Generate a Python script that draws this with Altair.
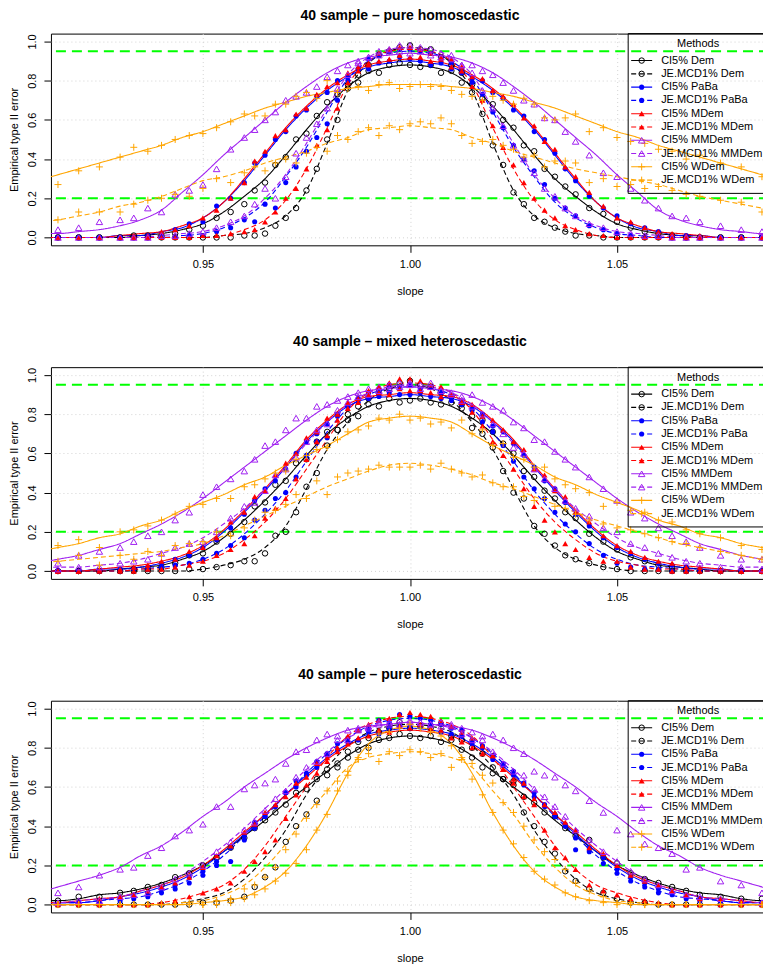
import altair as alt
import pandas as pd

FONT = "Liberation Sans"

# x grid of the simulated points (slope values)
SLOPE = [0.915, 0.92, 0.925, 0.93, 0.9333, 0.9367, 0.94, 0.9433, 0.9467, 0.95,
         0.9533, 0.9567, 0.96, 0.9625, 0.965, 0.9675, 0.97, 0.9725, 0.975, 0.9775,
         0.98, 0.9825, 0.985, 0.9875, 0.99, 0.9925, 0.995, 0.9975, 1.0,
         1.0025, 1.005, 1.0075, 1.01, 1.0125, 1.015, 1.0175, 1.02, 1.0225, 1.025,
         1.0275, 1.03, 1.0325, 1.035, 1.0375, 1.04, 1.0433, 1.0467, 1.05, 1.0533,
         1.0567, 1.06, 1.0633, 1.0667, 1.07, 1.075, 1.08, 1.085]
# x grid of the fitted curves
FIT_SLOPE = [0.91, 0.915, 0.92, 0.925, 0.93, 0.935, 0.94, 0.945, 0.95, 0.955, 0.96,
             0.965, 0.97, 0.975, 0.98, 0.985, 0.99, 0.995, 1.0, 1.005, 1.01, 1.015,
             1.02, 1.025, 1.03, 1.035, 1.04, 1.045, 1.05, 1.055, 1.06, 1.065, 1.07,
             1.075, 1.08, 1.085, 1.09]

METHODS = ["CI5% Dem", "JE.MCD1% Dem", "CI5% PaBa", "JE.MCD1% PaBa", "CI5% MDem",
           "JE.MCD1% MDem", "CI5% MMDem", "JE.MCD1% MMDem", "CI5% WDem", "JE.MCD1% WDem"]
TITLES = ["40 sample \u2013 pure homoscedastic", "40 sample \u2013 mixed heteroscedastic",
          "40 sample \u2013 pure heteroscedastic"]
GREEN_LEVELS = [0.95, 0.2]
X_TICKS = [0.95, 1.0, 1.05]
Y_TICKS = [0.0, 0.2, 0.4, 0.6, 0.8, 1.0]

# ---------------- values in percent: panel 1 (pure homoscedastic) -------------
P1_PTS_DEM_CI = [0,0,0,0,1,1,1,2,4,6,10,13,17,24,28,37,41,50,53,62,69,73,78,79,85,84,88,89,88,87,88,84,85,79,78,71,68,60,56,47,44,35,31,26,22,15,12,8,5,3,2,1,0,0,0,0,0]
P1_FIT_DEM_CI = [0,0,0,0,0,1,2,4,7,13,21,30,42,55,67,77,84,87,88,87,84,77,67,55,42,30,21,13,7,4,2,1,0,0,0,0,0]
P1_PTS_DEM_JE = [0,0,0,0,0,0,0,0,0,0,0,0,1,1,2,6,10,15,24,35,50,60,76,83,88,93,95,97,98,96,96,92,88,84,74,63,47,37,23,17,10,8,5,3,1,1,0,0,0,0,0,0,0,0,0,0,0]
P1_FIT_DEM_JE = [0,0,0,0,0,0,0,0,0,1,2,5,11,24,48,75,89,95,97,95,89,75,48,24,11,5,2,1,0,0,0,0,0,0,0,0,0]
P1_PTS_PABA_CI = [0,0,0,0,0,1,2,4,7,8,16,20,28,38,42,50,54,62,65,72,74,80,82,86,86,89,90,92,91,90,88,89,86,86,81,80,74,71,65,62,54,50,43,35,29,21,15,11,7,5,3,1,1,0,0,0,0]
P1_FIT_PABA_CI = [0,0,0,0,1,1,3,5,10,18,29,42,55,66,75,82,87,89,90,89,87,82,75,66,55,42,29,18,10,5,3,1,1,0,0,0,0]
P1_PTS_PABA_JE = [0,0,0,0,0,0,0,0,1,1,3,5,9,8,17,15,28,36,44,51,58,70,80,86,91,93,95,96,96,95,94,91,89,84,79,73,64,56,47,40,34,27,20,15,11,6,4,2,1,0,0,0,0,0,0,0,0]
P1_FIT_PABA_JE = [0,0,0,0,0,0,0,1,2,5,10,18,31,46,64,81,90,94,95,94,90,81,64,46,31,18,10,5,2,1,0,0,0,0,0,0,0]
P1_PTS_MDEM_CI = [0,0,0,0,1,1,3,4,6,10,14,20,28,39,44,52,55,63,66,73,77,79,84,87,88,90,91,93,92,92,90,91,87,87,82,81,75,72,68,61,57,49,45,36,31,23,16,10,8,5,3,2,1,1,0,0,0]
P1_FIT_MDEM_CI = [0,0,0,0,1,2,3,6,10,18,30,43,56,67,76,83,88,90,91,90,88,83,76,67,56,43,30,18,10,6,3,2,1,0,0,0,0]
P1_PTS_MDEM_JE = [0,0,0,0,0,0,0,0,0,1,1,2,3,4,8,13,20,25,35,47,55,66,79,85,89,94,96,97,97,96,94,92,91,85,77,70,57,46,37,28,20,14,10,6,4,2,1,0,0,0,0,0,0,0,0,0,0]
P1_FIT_MDEM_JE = [0,0,0,0,0,0,0,0,0,1,4,9,19,35,56,78,90,95,96,95,90,78,56,35,19,9,4,1,0,0,0,0,0,0,0,0,0]
P1_PTS_MMDEM_CI = [4,5,8,9,10,15,13,22,24,27,35,45,51,55,60,64,70,72,74,77,82,85,88,90,92,93,95,95,94,95,93,92,93,88,88,85,83,79,75,70,68,61,60,54,49,42,33,31,25,19,15,11,10,8,6,4,3]
P1_FIT_MMDEM_CI = [2,2,3,4,6,9,14,23,32,42,51,60,69,77,84,89,92,93,94,93,92,89,84,77,69,60,51,42,32,23,14,9,6,4,3,2,2]
P1_PTS_MMDEM_JE = [0,0,0,0,0,0,1,1,2,3,5,8,11,17,25,20,31,43,51,58,66,76,83,89,92,95,96,98,98,97,96,94,91,88,84,75,66,57,47,40,33,25,21,15,11,7,5,3,2,1,1,0,0,0,0,0,0]
P1_FIT_MMDEM_JE = [0,0,0,0,0,0,1,2,3,6,11,20,32,48,66,83,92,96,97,96,92,83,66,48,32,20,11,6,3,2,1,0,0,0,0,0,0]
P1_PTS_WDEM_CI = [27,34,36,41,46,44,47,50,52,53,56,59,63,62,62,68,68,72,74,71,80,74,76,77,75,78,79,76,77,78,77,77,75,73,72,70,72,70,68,71,68,61,60,61,63,54,56,51,49,48,45,44,40,42,38,36,31]
P1_FIT_WDEM_CI = [29,32,35,38,41,44,47,51,54,58,62,66,69,72,74,76,77,78,78,78,77,76,74,72,69,66,62,58,54,51,47,44,41,38,35,32,29]
P1_PTS_WDEM_JE = [9,13,13,13,17,19,20,22,21,25,30,28,33,36,34,38,40,38,43,46,44,52,50,54,56,52,57,55,58,59,58,61,58,52,48,49,50,47,45,41,42,36,39,39,38,28,30,26,27,25,26,24,22,21,19,18,13]
P1_FIT_WDEM_JE = [8,9,11,13,16,18,21,25,29,31,34,38,41,44,48,51,55,56,57,56,55,51,48,44,41,38,35,33,31,29,27,24,21,19,17,15,13]

# ---------------- panel 2 (mixed heteroscedastic) ----------------
P2_PTS_DEM_CI = [0,0,0,0,1,1,2,4,8,9,15,19,25,33,35,44,46,55,57,66,71,72,80,79,85,84,88,86,87,88,86,85,86,83,73,77,71,65,60,51,48,41,37,30,27,19,15,11,7,5,3,2,1,0,0,0,0]
P2_FIT_DEM_CI = [0,0,0,0,1,2,3,6,10,17,26,36,47,59,70,78,84,87,88,87,84,78,70,59,47,36,26,17,10,6,3,2,1,0,0,0,0]
P2_PTS_DEM_JE = [0,0,0,0,0,0,0,0,1,1,2,3,5,5,9,18,20,30,43,50,64,72,77,84,88,91,93,96,97,95,94,91,89,85,79,70,63,51,40,37,23,19,13,8,6,4,2,1,0,0,0,0,0,0,0,0,0]
P2_FIT_DEM_JE = [0,0,0,0,0,0,0,0,1,3,6,12,23,42,62,76,87,93,95,93,87,76,62,42,23,12,6,3,1,0,0,0,0,0,0,0,0]
P2_PTS_PABA_CI = [0,0,0,1,1,2,4,6,8,12,16,22,29,36,42,46,52,60,66,70,75,80,84,86,88,89,91,90,90,91,89,88,87,85,83,80,74,71,65,59,53,46,42,35,29,23,17,12,9,6,4,3,2,1,0,0,0]
P2_FIT_PABA_CI = [0,0,0,1,1,2,4,7,12,20,30,41,53,66,76,84,88,89,90,89,88,84,76,66,53,41,30,20,12,7,4,2,1,1,0,0,0]
P2_PTS_PABA_JE = [0,0,0,0,1,1,2,3,4,6,9,13,17,26,31,37,40,48,59,66,68,79,84,88,91,92,95,94,95,93,94,91,89,86,82,76,71,64,56,48,42,37,30,24,20,14,8,4,2,1,1,0,0,0,0,0,0]
P2_FIT_PABA_JE = [0,0,0,0,0,1,2,3,6,11,19,29,41,56,71,83,90,93,94,93,90,83,71,56,41,29,19,11,6,3,2,1,0,0,0,0,0]
P2_PTS_MDEM_CI = [0,0,1,1,2,3,5,6,10,12,17,25,30,38,41,49,55,60,68,71,78,80,86,86,90,91,90,93,92,92,91,89,90,86,85,79,77,72,66,62,52,49,41,38,30,25,18,13,10,7,5,4,2,2,1,0,0]
P2_FIT_MDEM_CI = [0,0,0,1,2,3,5,8,13,21,31,42,54,67,77,85,89,90,91,90,89,85,77,67,54,42,31,21,13,8,5,3,2,1,0,0,0]
P2_PTS_MDEM_JE = [0,0,0,0,0,1,1,2,3,5,8,11,14,18,27,32,37,47,57,66,69,77,83,88,92,94,96,98,98,97,95,94,90,86,81,74,66,59,52,42,33,26,20,14,11,7,5,5,2,1,1,0,0,0,0,0,0]
P2_FIT_MDEM_JE = [0,0,0,0,0,1,1,3,5,9,16,25,37,52,67,82,91,95,96,95,91,82,67,52,37,25,16,9,5,3,1,1,0,0,0,0,0]
P2_PTS_MMDEM_CI = [4,8,10,12,15,18,20,26,30,39,43,47,51,57,64,66,72,78,78,84,85,87,89,91,93,92,95,94,96,93,94,92,91,89,90,86,84,82,76,73,67,66,61,57,53,48,42,36,30,27,22,18,15,12,8,6,6]
P2_FIT_MMDEM_CI = [4,6,8,11,14,19,24,30,37,45,53,61,69,77,84,89,92,93,94,93,92,89,84,77,69,61,53,45,37,30,24,19,14,11,8,6,4]
P2_PTS_MMDEM_JE = [1,2,2,4,5,6,9,12,14,15,20,27,33,35,41,49,52,58,66,72,75,82,86,89,90,94,93,96,95,95,96,92,90,87,84,80,75,70,63,60,52,47,42,36,32,28,22,20,14,12,9,7,5,4,2,2,1]
P2_FIT_MMDEM_JE = [1,2,2,3,4,6,9,12,17,24,32,42,53,65,76,85,91,94,95,94,91,85,76,65,53,42,32,24,17,12,9,6,4,3,2,2,1]
P2_PTS_WDEM_CI = [13,16,12,20,21,23,26,29,33,34,37,37,43,44,47,50,51,57,59,62,63,67,71,72,74,78,77,80,77,78,75,76,73,77,70,72,64,65,58,57,53,53,47,44,42,40,33,35,31,30,26,25,21,19,17,13,11]
P2_FIT_WDEM_CI = [10,12,14,17,19,23,26,31,35,39,44,48,54,59,64,70,76,78,79,78,76,70,64,59,54,48,44,39,35,31,26,23,19,17,14,12,10]
P2_PTS_WDEM_JE = [5,8,3,8,6,10,8,13,14,15,20,18,22,26,30,31,34,39,37,46,39,48,50,51,52,54,53,53,53,54,52,55,52,50,48,49,45,43,43,38,36,37,33,32,29,26,24,22,21,19,17,15,14,12,10,8,6]
P2_FIT_WDEM_JE = [4,5,6,7,8,9,10,12,14,18,23,28,33,38,43,47,51,54,55,54,52,49,45,42,38,34,30,26,23,20,17,14,12,10,8,6,5]

# ---------------- panel 3 (pure heteroscedastic) ----------------
P3_PTS_DEM_CI = [2,4,4,6,7,9,10,14,16,20,24,29,34,39,43,47,51,57,59,64,69,72,75,79,80,84,85,87,86,85,86,83,84,79,75,70,67,64,61,55,52,47,45,39,35,33,24,21,16,13,11,9,7,5,4,3,3]
P3_FIT_DEM_CI = [2,2,3,5,6,8,11,15,20,27,35,43,52,60,68,76,82,85,86,85,82,76,68,60,52,43,35,27,20,15,11,8,6,5,3,2,2]
P3_PTS_DEM_JE = [0,0,0,0,0,0,0,0,0,1,1,2,4,9,14,19,32,40,46,53,66,70,78,83,85,88,90,93,90,91,90,92,86,84,80,77,70,64,63,47,40,32,26,17,12,8,6,3,1,1,0,0,0,0,0,0,0]
P3_FIT_DEM_JE = [0,0,0,0,0,0,0,1,3,6,13,24,38,56,70,81,88,91,92,91,88,81,70,56,38,24,13,6,3,1,0,0,0,0,0,0,0]
P3_PTS_PABA_CI = [0,1,2,3,4,6,8,10,14,17,22,29,35,42,45,50,57,60,67,70,76,79,83,84,88,87,90,91,90,91,92,88,87,86,82,80,74,72,66,62,57,50,46,40,28,29,24,18,14,11,8,6,4,3,2,1,1]
P3_FIT_PABA_CI = [0,1,1,2,4,6,9,13,19,27,36,46,56,66,75,82,87,89,90,89,87,82,75,66,56,46,36,27,19,13,9,6,4,2,1,1,0]
P3_PTS_PABA_JE = [0,1,1,2,3,4,6,8,11,15,20,22,33,39,45,50,57,63,66,73,77,82,85,89,90,94,93,97,96,95,94,92,90,89,84,81,76,71,68,61,55,51,45,41,34,27,21,16,12,9,6,5,3,2,2,1,0]
P3_FIT_PABA_JE = [0,1,1,2,3,4,7,11,17,25,35,45,56,67,77,85,91,94,95,94,91,85,77,67,56,45,35,25,17,11,7,4,3,2,1,1,0]
P3_PTS_MDEM_CI = [1,1,3,4,5,7,9,11,14,19,25,30,37,41,47,51,55,62,65,72,73,78,82,85,86,89,88,91,90,92,90,89,85,83,80,77,76,69,64,62,54,51,47,42,38,29,26,20,15,12,10,7,5,3,3,2,1]
P3_FIT_MDEM_CI = [1,1,2,3,4,7,10,14,20,28,37,46,56,65,74,81,86,88,89,88,86,81,74,65,56,46,37,28,20,14,10,7,4,3,2,1,1]
P3_PTS_MDEM_JE = [0,0,0,0,0,0,1,2,4,6,8,11,17,22,27,33,44,56,61,67,75,80,86,89,92,94,95,97,98,97,96,94,91,88,85,81,76,69,62,55,51,38,29,24,18,10,7,5,3,2,1,0,0,0,0,0,0]
P3_FIT_MDEM_JE = [0,0,0,0,0,0,1,3,6,10,18,30,45,60,75,86,92,95,96,95,92,86,75,60,45,30,18,10,6,3,1,0,0,0,0,0,0]
P3_PTS_MMDEM_CI = [6,9,15,18,19,25,29,35,38,41,50,50,59,61,62,64,72,78,79,84,87,86,89,90,91,93,92,94,93,93,92,93,91,90,88,86,87,84,80,77,68,66,65,61,58,53,47,38,36,31,29,26,18,19,12,10,6]
P3_FIT_MMDEM_CI = [6,9,12,15,19,25,30,37,45,52,60,67,74,80,85,89,91,92,93,92,91,89,85,80,74,67,60,52,45,37,30,25,19,15,12,9,6]
P3_PTS_MMDEM_JE = [1,2,2,4,5,6,9,13,16,20,27,32,38,42,48,54,58,65,70,73,77,84,84,89,90,92,93,92,94,93,92,91,92,87,84,84,78,72,68,66,59,55,50,45,38,33,27,22,17,13,10,7,5,4,3,2,1]
P3_FIT_MMDEM_JE = [1,1,2,3,4,7,10,15,22,30,39,49,59,69,78,85,90,92,93,92,90,85,78,69,59,49,39,30,22,15,10,7,4,3,2,1,1]
P3_PTS_WDEM_CI = [0,0,0,0,0,0,0,0,0,0,0,1,3,5,8,12,16,21,28,38,46,58,66,75,80,87,88,90,92,90,88,86,81,75,64,56,47,38,31,24,17,13,10,6,4,2,1,0,0,0,0,0,0,0,0,0,0]
P3_FIT_WDEM_CI = [0,0,0,0,0,0,0,0,1,2,4,9,17,30,47,67,82,89,91,89,82,67,47,30,17,9,4,2,1,0,0,0,0,0,0,0,0]
P3_PTS_WDEM_JE = [0,0,0,0,0,0,0,0,1,0,2,3,8,10,14,19,28,36,44,51,58,63,68,74,77,73,78,76,79,78,75,77,70,74,72,66,62,52,47,40,33,27,23,18,11,7,4,1,1,0,0,0,0,0,0,0,0]
P3_FIT_WDEM_JE = [0,0,0,0,0,0,0,1,2,5,10,19,31,46,58,70,75,77,78,77,75,70,58,46,31,19,10,5,2,1,0,0,0,0,0,0,0]

PANEL_DATA = [
    {"CI5% Dem": (P1_PTS_DEM_CI, P1_FIT_DEM_CI), "JE.MCD1% Dem": (P1_PTS_DEM_JE, P1_FIT_DEM_JE),
     "CI5% PaBa": (P1_PTS_PABA_CI, P1_FIT_PABA_CI), "JE.MCD1% PaBa": (P1_PTS_PABA_JE, P1_FIT_PABA_JE),
     "CI5% MDem": (P1_PTS_MDEM_CI, P1_FIT_MDEM_CI), "JE.MCD1% MDem": (P1_PTS_MDEM_JE, P1_FIT_MDEM_JE),
     "CI5% MMDem": (P1_PTS_MMDEM_CI, P1_FIT_MMDEM_CI), "JE.MCD1% MMDem": (P1_PTS_MMDEM_JE, P1_FIT_MMDEM_JE),
     "CI5% WDem": (P1_PTS_WDEM_CI, P1_FIT_WDEM_CI), "JE.MCD1% WDem": (P1_PTS_WDEM_JE, P1_FIT_WDEM_JE)},
    {"CI5% Dem": (P2_PTS_DEM_CI, P2_FIT_DEM_CI), "JE.MCD1% Dem": (P2_PTS_DEM_JE, P2_FIT_DEM_JE),
     "CI5% PaBa": (P2_PTS_PABA_CI, P2_FIT_PABA_CI), "JE.MCD1% PaBa": (P2_PTS_PABA_JE, P2_FIT_PABA_JE),
     "CI5% MDem": (P2_PTS_MDEM_CI, P2_FIT_MDEM_CI), "JE.MCD1% MDem": (P2_PTS_MDEM_JE, P2_FIT_MDEM_JE),
     "CI5% MMDem": (P2_PTS_MMDEM_CI, P2_FIT_MMDEM_CI), "JE.MCD1% MMDem": (P2_PTS_MMDEM_JE, P2_FIT_MMDEM_JE),
     "CI5% WDem": (P2_PTS_WDEM_CI, P2_FIT_WDEM_CI), "JE.MCD1% WDem": (P2_PTS_WDEM_JE, P2_FIT_WDEM_JE)},
    {"CI5% Dem": (P3_PTS_DEM_CI, P3_FIT_DEM_CI), "JE.MCD1% Dem": (P3_PTS_DEM_JE, P3_FIT_DEM_JE),
     "CI5% PaBa": (P3_PTS_PABA_CI, P3_FIT_PABA_CI), "JE.MCD1% PaBa": (P3_PTS_PABA_JE, P3_FIT_PABA_JE),
     "CI5% MDem": (P3_PTS_MDEM_CI, P3_FIT_MDEM_CI), "JE.MCD1% MDem": (P3_PTS_MDEM_JE, P3_FIT_MDEM_JE),
     "CI5% MMDem": (P3_PTS_MMDEM_CI, P3_FIT_MMDEM_CI), "JE.MCD1% MMDem": (P3_PTS_MMDEM_JE, P3_FIT_MMDEM_JE),
     "CI5% WDem": (P3_PTS_WDEM_CI, P3_FIT_WDEM_CI), "JE.MCD1% WDem": (P3_PTS_WDEM_JE, P3_FIT_WDEM_JE)},
]

# ---------------- styles ----------------
BASE_COLOR = {"Dem": "#000000", "PaBa": "#0000FF", "MDem": "#FF0000",
              "MMDem": "#A020F0", "WDem": "#FFA500"}
PLUS = "M-1,0L1,0M0,-1L0,1"
MARKER = {"Dem": dict(shape="circle", filled=False, size=30),
          "PaBa": dict(shape="circle", filled=True, size=26),
          "MDem": dict(shape="triangle-up", filled=True, size=36),
          "MMDem": dict(shape="triangle-up", filled=False, size=42),
          "WDem": dict(shape=PLUS, filled=False, size=49)}
COLOR_SCALE = alt.Scale(domain=METHODS, range=[BASE_COLOR[m.split(" ")[1]] for m in METHODS])
DASH_SCALE = alt.Scale(domain=["CI", "JE"], range=[[1, 0], [5, 3]])

W, H = 719, 212
XSCALE = alt.Scale(domain=[0.9133, 1.0867], nice=False, zero=False)
YSCALE = alt.Scale(domain=[-0.04, 1.04], nice=False, zero=False)
XAXIS = alt.Axis(values=X_TICKS, format=".2f", title="slope", grid=True, gridColor="#D3D3D3",
                 gridDash=[1, 3], domain=False, tickColor="black", tickSize=7, labelPadding=6,
                 labelFontSize=11, labelFont=FONT, labelColor="black", titleFont=FONT,
                 titleFontSize=11, titleFontWeight="normal", titleColor="black", titlePadding=16)
YAXIS = alt.Axis(values=Y_TICKS, format=".1f", title="Empirical type II error", grid=True,
                 gridColor="#D3D3D3", gridDash=[1, 3], domain=False, tickColor="black",
                 tickSize=7, labelPadding=6, labelAngle=270, labelAlign="center",
                 labelBaseline="bottom", labelFontSize=11, labelFont=FONT, labelColor="black",
                 titleFont=FONT, titleFontSize=11, titleFontWeight="normal", titleColor="black",
                 titlePadding=7)


def xenc():
    return alt.X("slope:Q", scale=XSCALE, axis=XAXIS)


def yenc(field="value"):
    return alt.Y(field + ":Q", scale=YSCALE, axis=YAXIS)


def panel(title, data, offset):
    pts_rows, fit_rows = [], []
    for name, (pts, fit) in data.items():
        assert len(pts) == len(SLOPE), (title, name, "pts", len(pts))
        assert len(fit) == len(FIT_SLOPE), (title, name, "fit", len(fit))
        kind = "CI" if name.startswith("CI") else "JE"
        base = name.split(" ")[1]
        for s, v in zip(SLOPE, pts):
            pts_rows.append({"series": name, "base": base, "kind": kind, "slope": s, "value": v / 100})
        for s, v in zip(FIT_SLOPE, fit):
            fit_rows.append({"series": name, "base": base, "kind": kind, "slope": s, "value": v / 100})
    pts_df = pd.DataFrame(pts_rows)
    fit_df = pd.DataFrame(fit_rows)

    green = alt.Chart(pd.DataFrame({"level": GREEN_LEVELS})).mark_rule(
        color="#00FF00", strokeWidth=2, strokeDash=[10, 6]).encode(y=yenc("level"))

    lines = alt.Chart(fit_df).mark_line(strokeWidth=1.1, interpolate="monotone", clip=True).encode(
        x=xenc(), y=yenc(),
        color=alt.Color("series:N", scale=COLOR_SCALE, legend=None),
        strokeDash=alt.StrokeDash("kind:N", scale=DASH_SCALE, legend=None),
        detail="series:N")

    layers = [green, lines]
    for base, st in MARKER.items():
        layers.append(
            alt.Chart(pts_df).transform_filter(alt.datum.base == base).mark_point(
                shape=st["shape"], filled=st["filled"], size=st["size"], color=BASE_COLOR[base],
                strokeWidth=1, opacity=1, clip=True).encode(x=xenc(), y=yenc()))

    # legend (top-right, transparent background)
    leg = pd.DataFrame({"label": METHODS})
    leg["kind"] = ["CI" if m.startswith("CI") else "JE" for m in METHODS]
    leg["base"] = [m.split(" ")[1] for m in METHODS]
    leg["ly"] = [27 + 13.3 * i for i in range(len(METHODS))]
    box = pd.DataFrame({"t": ["Methods"]})
    layers.append(alt.Chart(box).mark_rect(fillOpacity=0, stroke="black", strokeWidth=1).encode(
        x=alt.value(578), x2=alt.value(W), y=alt.value(0), y2=alt.value(160)))
    layers.append(alt.Chart(box).mark_text(font=FONT, fontSize=11, align="center", baseline="middle",
                                           color="black").encode(
        x=alt.value(648), y=alt.value(10.5), text="t:N"))
    layers.append(alt.Chart(leg).mark_rule(strokeWidth=1.1).encode(
        x=alt.value(581), x2=alt.value(602), y=alt.Y("ly:Q", scale=None),
        color=alt.Color("label:N", scale=COLOR_SCALE, legend=None),
        strokeDash=alt.StrokeDash("kind:N", scale=DASH_SCALE, legend=None)))
    for base, st in MARKER.items():
        layers.append(alt.Chart(leg).transform_filter(alt.datum.base == base).mark_point(
            shape=st["shape"], filled=st["filled"], size=st["size"], color=BASE_COLOR[base],
            strokeWidth=1, opacity=1).encode(x=alt.value(591.5), y=alt.Y("ly:Q", scale=None)))
    layers.append(alt.Chart(leg).mark_text(font=FONT, fontSize=11, align="left", baseline="middle",
                                           color="black").encode(
        x=alt.value(611), y=alt.Y("ly:Q", scale=None), text="label:N"))

    return alt.layer(*layers).properties(
        width=W, height=H,
        title=alt.TitleParams(text=title, font=FONT, fontSize=14, fontWeight="bold",
                              anchor="middle", color="black", offset=offset))


charts = [panel(TITLES[0], PANEL_DATA[0], 10),
          panel(TITLES[1], PANEL_DATA[1], 18),
          panel(TITLES[2], PANEL_DATA[2], 18)]

# the reference is cropped at the right edge of the plot box: trim the last 8 px
chart = alt.vconcat(*charts, spacing=37).properties(
    padding={"left": 0, "top": 0, "right": -8, "bottom": 0}
).configure_view(stroke="black", strokeWidth=1)

chart.save("out.html", embed_options={"renderer": "svg", "actions": False})
